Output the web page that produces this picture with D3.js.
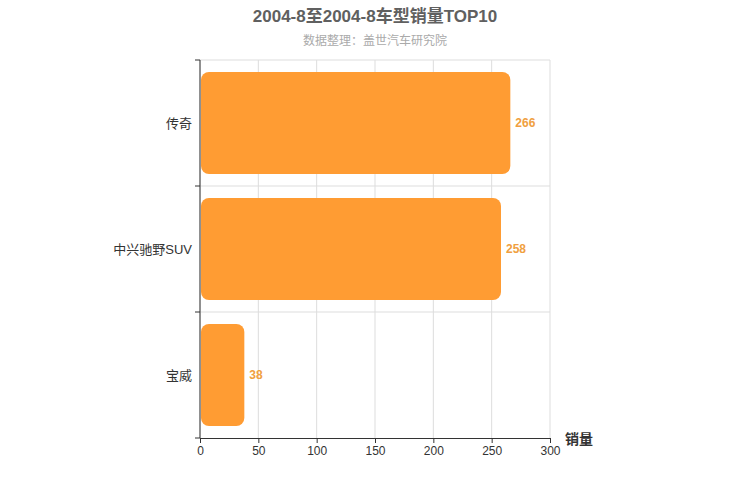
<!DOCTYPE html>
<html><head><meta charset="utf-8">
<script src="https://cdn.jsdelivr.net/npm/d3@7"></script>
<style>body{margin:0;background:#fff}text{font-family:"Liberation Sans","Noto Sans CJK SC",sans-serif}</style>
</head><body><svg id="chart" width="750" height="500"></svg>
<script>
// chart data
const models = ["传奇", "中兴驰野SUV", "宝威"];
const sales = [266, 258, 38];
const xTicks = [0, 50, 100, 150, 200, 250, 300];

const svg = d3.select("#chart");
const plotLeft = 200, plotRight = 550, plotTop = 60, plotBottom = 438;

const x = d3.scaleLinear().domain([0, 300]).range([plotLeft, plotRight]);
const y = d3.scaleBand().domain(models).range([plotTop, plotBottom]).paddingInner(0.19).paddingOuter(0.095);

svg.append("text").attr("x", 375).attr("y", 22).attr("text-anchor", "middle")
    .attr("font-size", 17).attr("font-weight", "bold").attr("fill", "#606060")
    .text("2004-8至2004-8车型销量TOP10");
svg.append("text").attr("x", 375).attr("y", 45).attr("text-anchor", "middle")
    .attr("font-size", 12).attr("fill", "#aaa").text("数据整理：盖世汽车研究院");

// grid
const grid = svg.append("g");
xTicks.forEach(t => {
    grid.append("line").attr("x1", x(t)).attr("x2", x(t)).attr("y1", plotTop).attr("y2", plotBottom)
        .attr("stroke", "#ddd");
});
const bandEdges = [plotTop, plotTop + (plotBottom - plotTop) / 3, plotTop + 2 * (plotBottom - plotTop) / 3];
bandEdges.forEach(e => {
    grid.append("line").attr("x1", plotLeft).attr("x2", plotRight).attr("y1", e).attr("y2", e).attr("stroke", "#ddd");
});

// bars
svg.selectAll("rect.bar").data(models).join("rect").attr("class", "bar")
    .attr("x", x(0) + 1).attr("y", d => y(d))
    .attr("width", (d, i) => x(sales[i]) - x(0) - 1).attr("height", y.bandwidth())
    .attr("rx", 8).attr("fill", "#ff9c33");

svg.selectAll("text.val").data(models).join("text").attr("class", "val")
    .attr("x", (d, i) => x(sales[i]) + 5).attr("y", d => y(d) + y.bandwidth() / 2 + 4)
    .attr("font-size", 12).attr("font-weight", "bold").attr("fill", "#f0a040")
    .text((d, i) => sales[i]);

// axes
const xAxis = svg.append("g").attr("transform", `translate(0,${plotBottom})`)
    .call(d3.axisBottom(x).tickValues(xTicks).tickSize(5).tickSizeOuter(0));
xAxis.select(".domain").attr("stroke", "#333");
xAxis.selectAll("line").attr("stroke", "#333");
xAxis.selectAll("text").attr("font-size", 12).attr("fill", "#333");

const yAxis = svg.append("g").attr("transform", `translate(${plotLeft},0)`);
yAxis.append("line").attr("x1", 0).attr("x2", 0).attr("y1", plotTop).attr("y2", plotBottom).attr("stroke", "#333");
bandEdges.concat([plotBottom]).forEach(e => {
    yAxis.append("line").attr("x1", -5).attr("x2", 0).attr("y1", e).attr("y2", e).attr("stroke", "#333");
});
models.forEach(m => {
    yAxis.append("text").attr("x", -8).attr("y", y(m) + y.bandwidth() / 2 + 5)
        .attr("text-anchor", "end").attr("font-size", 13).attr("fill", "#333").text(m);
});

svg.append("text").attr("x", 565).attr("y", 444).attr("font-size", 14)
    .attr("font-weight", "bold").attr("fill", "#333").text("销量");
</script></body></html>
